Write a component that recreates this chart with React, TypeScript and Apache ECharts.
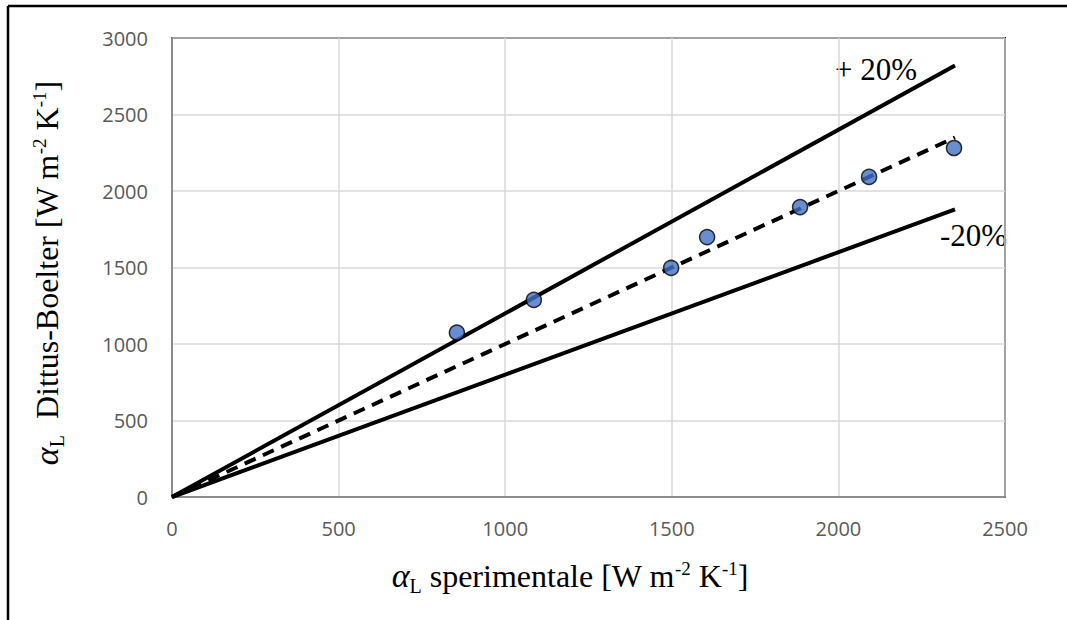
import React, { useEffect, useRef } from "react";
import * as echarts from "echarts";

const xTicks = [0, 500, 1000, 1500, 2000, 2500];
const yTicks = [0, 500, 1000, 1500, 2000, 2500, 3000];
const alphaExp = [855, 1086, 1498, 1606, 1885, 2092, 2347];
const alphaDB = [1075, 1288, 1497, 1699, 1895, 2092, 2281];
const lineX = [0, 2350];
const identityY = [0, 2350];
const plus20Y = [0, 2820];
const minus20Y = [0, 1880];
const labelPlus = "+ 20%";
const labelMinus = "-20%";

const serif = "'Liberation Serif', 'Times New Roman', serif";

type Part = { text: string; size: number; style?: string; dy?: number };

const xTitleParts: Part[] = [
  { text: "α", size: 34, style: "italic" },
  { text: "L", size: 20, dy: 6 },
  { text: " sperimentale [W m", size: 32 },
  { text: "-2", size: 19, dy: -12 },
  { text: " K", size: 32 },
  { text: "-1", size: 19, dy: -12 },
  { text: "]", size: 32 },
];
const yTitleParts: Part[] = [
  { text: "α", size: 34, style: "italic" },
  { text: "L", size: 20, dy: 6 },
  { text: "  Dittus-Boelter [W m", size: 32 },
  { text: "-2", size: 19, dy: -12 },
  { text: " K", size: 32 },
  { text: "-1", size: 19, dy: -12 },
  { text: "]", size: 32 },
];

function layoutRun(parts: Part[]) {
  const ctx = document.createElement("canvas").getContext("2d")!;
  let x = 0;
  const items = parts.map((p) => {
    const font = `${p.style ? p.style + " " : ""}${p.size}px ${serif}`;
    ctx.font = font;
    const w = ctx.measureText(p.text).width;
    const it = { x, font, p };
    x += w;
    return it;
  });
  const total = x;
  return items.map((it) => ({
    type: "text",
    x: it.x - total / 2,
    y: (it.p.dy || 0) - 0.33 * it.p.size,
    style: { text: it.p.text, font: it.font, fill: "#000", align: "left", verticalAlign: "middle" },
  }));
}

export default function App() {
  const ref = useRef<HTMLDivElement>(null);
  useEffect(() => {
    document.body.style.margin = "0";
    const chart = echarts.init(ref.current!, undefined, { renderer: "svg" });
    const pair = (xs: number[], ys: number[]) => xs.map((x, i) => [x, ys[i]]);
    const labelFont = "'Open Sans', sans-serif";
    chart.setOption({
      animation: false,
      backgroundColor: "#fff",
      grid: { left: 172, top: 38, right: 62, bottom: 123, show: true, borderColor: "#000", borderWidth: 2 },
      xAxis: {
        type: "value",
        min: xTicks[0],
        max: xTicks[xTicks.length - 1],
        interval: 500,
        axisLine: { show: true, lineStyle: { color: "#8c8c8c", width: 2 } },
        axisTick: { show: false },
        splitLine: { show: true, lineStyle: { color: "#d9d9d9", width: 1.5 } },
        axisLabel: { color: "#595959", fontSize: 20, fontFamily: labelFont, margin: 21, formatter: (v: number) => String(v) },
      },
      yAxis: {
        type: "value",
        min: yTicks[0],
        max: yTicks[yTicks.length - 1],
        interval: 500,
        axisLine: { show: true, lineStyle: { color: "#8c8c8c", width: 2 } },
        axisTick: { show: false },
        splitLine: { show: true, lineStyle: { color: "#d9d9d9", width: 1.5 } },
        axisLabel: { color: "#595959", fontSize: 20, fontFamily: labelFont, margin: 24, formatter: (v: number) => String(v) },
      },
      series: [
        {
          type: "line",
          data: pair(lineX, plus20Y),
          showSymbol: false,
          lineStyle: { color: "#000", width: 4 },
          z: 2,
        },
        {
          type: "line",
          data: pair(lineX, minus20Y),
          showSymbol: false,
          lineStyle: { color: "#000", width: 4 },
          z: 2,
        },
        {
          type: "line",
          data: pair(lineX, identityY),
          showSymbol: false,
          lineStyle: { color: "#000", width: 4, type: [12, 8] },
          z: 2,
        },
        {
          type: "scatter",
          data: pair(alphaExp, alphaDB),
          symbol: "circle",
          symbolSize: 15,
          itemStyle: { color: "#4472C4", borderColor: "#000", borderWidth: 1.5 },
          z: 3,
        },
      ],
      graphic: [
        { type: "line", shape: { x1: 8, y1: 6, x2: 1067, y2: 6 }, style: { stroke: "#000", lineWidth: 2.5 } },
        { type: "line", shape: { x1: 8, y1: 6, x2: 8, y2: 620 }, style: { stroke: "#000", lineWidth: 2.5 } },
        {
          type: "text",
          x: 835,
          y: 80 - 0.33 * 31,
          style: { text: labelPlus, font: `31px ${serif}`, fill: "#000", align: "left", verticalAlign: "middle" },
        },
        {
          type: "text",
          x: 940,
          y: 246 - 0.33 * 31,
          style: { text: labelMinus, font: `31px ${serif}`, fill: "#000", align: "left", verticalAlign: "middle" },
        },
        { type: "group", x: 570, y: 587, children: layoutRun(xTitleParts) },
        { type: "group", x: 58, y: 273, rotation: Math.PI / 2, children: layoutRun(yTitleParts) },
      ],
    });
    return () => chart.dispose();
  }, []);
  return <div ref={ref} style={{ width: 1067, height: 620 }} />;
}
